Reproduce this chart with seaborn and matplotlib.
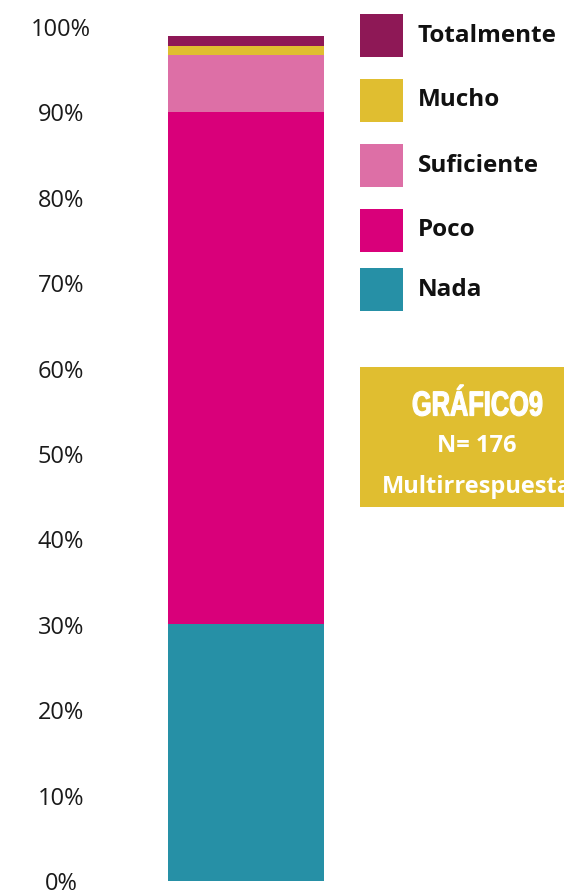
import seaborn as sns
import matplotlib.pyplot as plt
from matplotlib.patches import Rectangle, PathPatch
from matplotlib.textpath import TextPath
from matplotlib.font_manager import FontProperties
from matplotlib.transforms import Affine2D
import numpy as np

categories = ["Nada", "Poco", "Suficiente", "Mucho", "Totalmente"]
values = [30.1, 59.9, 6.7, 1.1, 1.1]
colors = ["#2690A6", "#D9007A", "#DD6FA6", "#E0BE30", "#8E1856"]
y_ticks = [0, 10, 20, 30, 40, 50, 60, 70, 80, 90, 100]
tick_labels = [f"{t}%" for t in y_ticks]

sns.set_style("white")
plt.rcParams["font.family"] = ["Open Sans", "DejaVu Sans"]

W, H = 564, 891
fig = plt.figure(figsize=(W / 100, H / 100), dpi=100)
# axes placed so 0% sits at y=881 px and 100% at y=27 px
ax = fig.add_axes([120 / W, (H - 881) / H, 252 / W, (881 - 27) / H])

# stacked bar: draw cumulative totals from the top down
cum = np.cumsum(values)
for i in reversed(range(len(categories))):
    sns.barplot(x=["Total"], y=[cum[i]], color=colors[i], width=0.62,
                saturation=1, ax=ax, linewidth=0)

ax.set_xlim(-0.5, 0.5)
ax.set_ylim(0, 100)
ax.set_yticks(y_ticks)
ax.set_yticklabels(tick_labels, fontsize=17, color="#1a1a1a", ha="center")
ax.set_xticks([])
ax.set_xlabel("")
ax.set_ylabel("")
# labels centred at x ~ 61 px
ax.tick_params(axis="y", length=0, pad=(120 - 61) * 0.72)
sns.despine(ax=ax, left=True, bottom=True)

# legend as squares + bold labels, top to bottom
leg_tops = [14, 79, 144, 209, 268]
for k, i in enumerate(reversed(range(len(categories)))):
    top = leg_tops[k]
    fig.add_artist(Rectangle((360 / W, (H - top - 43) / H), 43 / W, 43 / H,
                             transform=fig.transFigure, color=colors[i], lw=0))
    fig.text(418 / W, (H - top - 21.5) / H, categories[i], fontsize=17.5,
             fontweight="bold", color="#111111", va="center", ha="left")

# title box
fig.add_artist(Rectangle((360 / W, (H - 507) / H), 220 / W, 140 / H,
                         transform=fig.transFigure, color="#E0BE30", lw=0))

# condensed title: bold text path squeezed horizontally
tp = TextPath((0, 0), "GRÁFICO9", size=36,
              prop=FontProperties(family="Liberation Sans", weight="bold"))
bb = tp.get_extents()
sx, sy = 129 / bb.width, 25.0 / 26.0
tr = (Affine2D().translate(-bb.x0 - bb.width / 2, 0).scale(sx, sy)
      .translate(477.5, H - 415.5))
fig.add_artist(PathPatch(tr.transform_path(tp), transform=None,
                         facecolor="white", edgecolor="white", lw=0.9))

fig.text(477 / W, (H - 446) / H, "N= 176", fontsize=17, fontweight="bold",
         color="white", ha="center", va="center")
fig.text(477 / W, (H - 487) / H, "Multirrespuesta", fontsize=17,
         fontweight="bold", color="white", ha="center", va="center")

fig.savefig("out.png", dpi=100)
